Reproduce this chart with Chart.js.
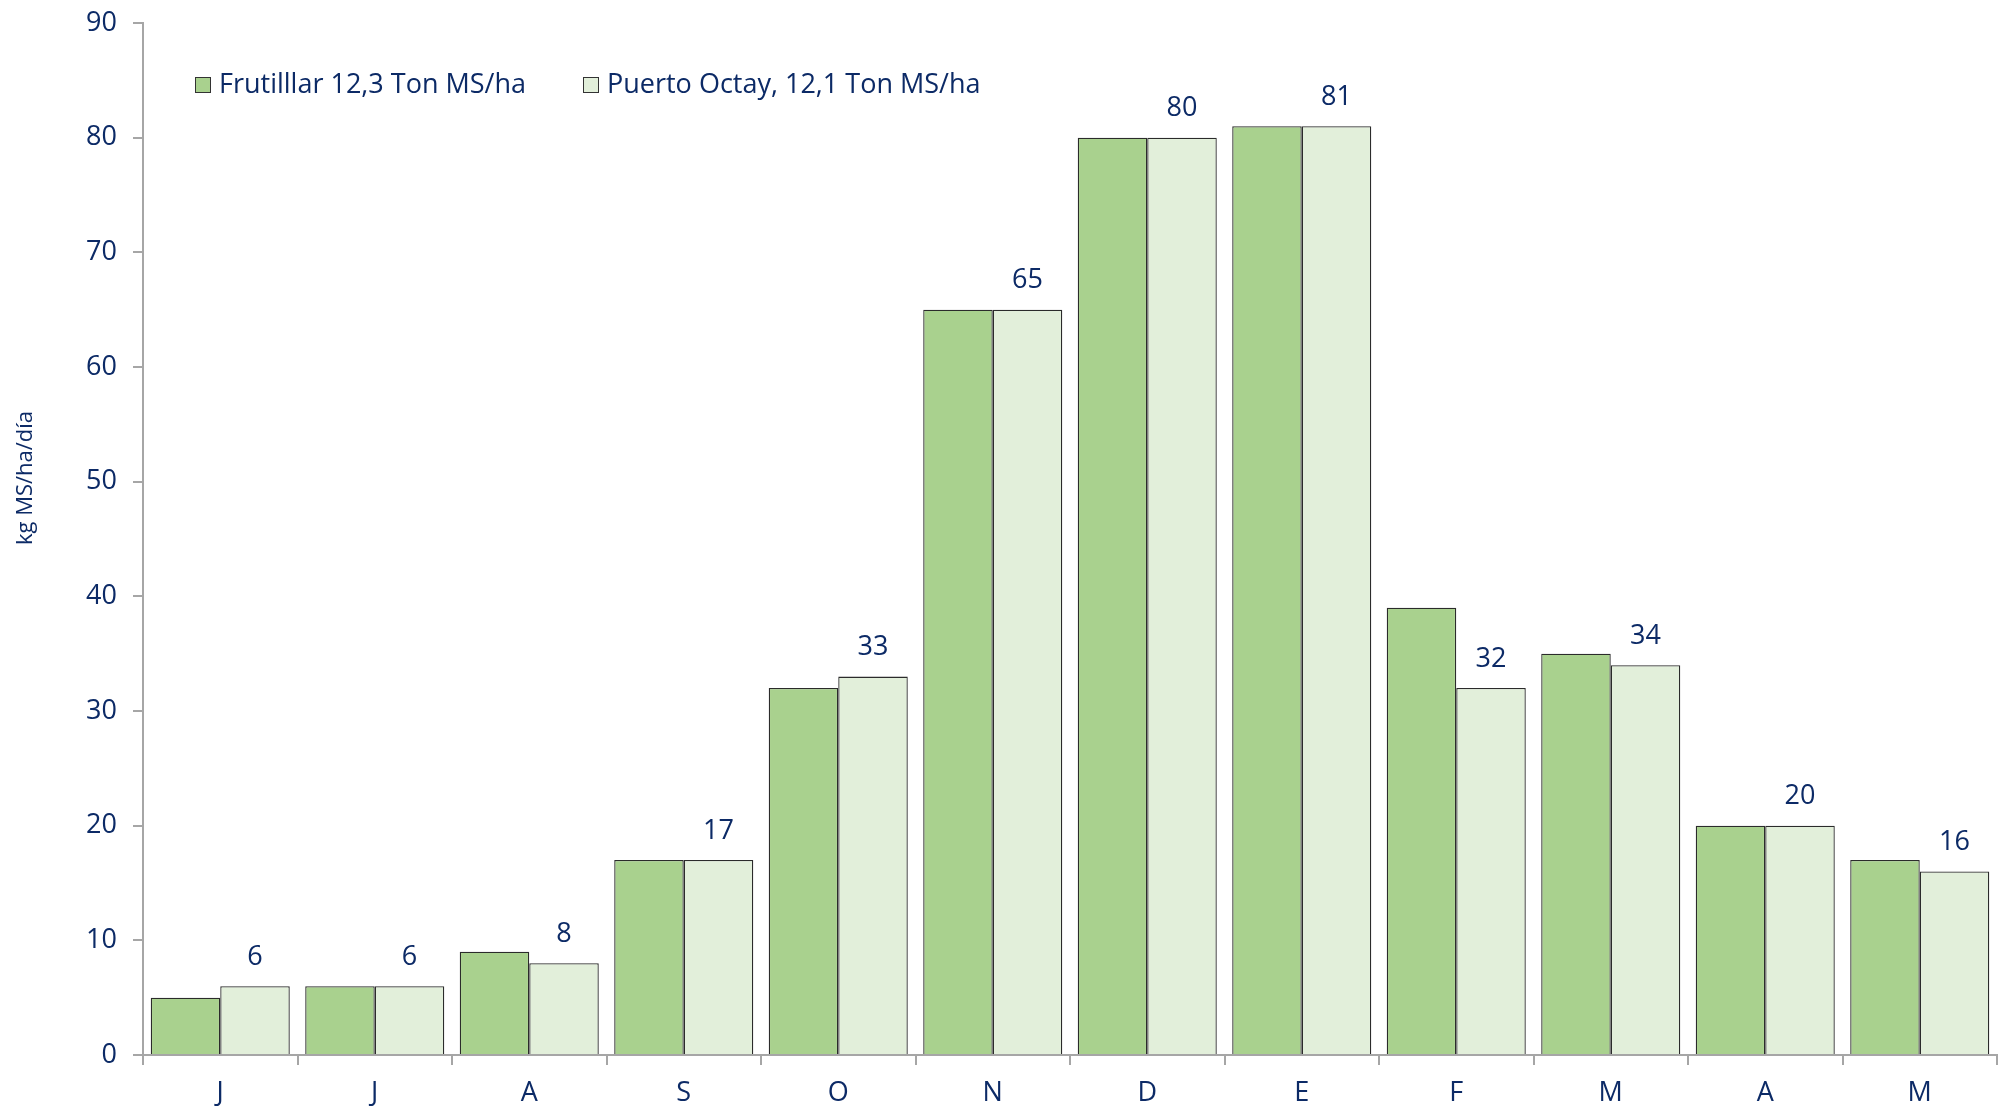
<!DOCTYPE html>
<html>
<head>
<meta charset="utf-8">
<script src="https://cdn.jsdelivr.net/npm/chart.js@4/dist/chart.umd.min.js"></script>
<style>
  html, body { margin: 0; padding: 0; background: #fff; }
  #wrap { width: 2001px; height: 1106px; position: relative; }
</style>
</head>
<body>
<div id="wrap"><canvas id="myChart"></canvas></div>
<script>
// month initials, June to May
const months = ["J", "J", "A", "S", "O", "N", "D", "E", "F", "M", "A", "M"];
const frutillar = [5, 6, 9, 17, 32, 65, 80, 81, 39, 35, 20, 17];
const puertoOctay = [6, 6, 8, 17, 33, 65, 80, 81, 32, 34, 20, 16];
const seriesNames = ["Frutilllar 12,3 Ton MS/ha", "Puerto Octay, 12,1 Ton MS/ha"];
const yTitle = "kg MS/ha/día";

const navy = "#0C2A66";
const font = "'Open Sans', sans-serif";

// value labels over the Puerto Octay bars
const valueLabels = {
  id: "valueLabels",
  afterDatasetsDraw(chart) {
    const { ctx } = chart;
    const meta = chart.getDatasetMeta(1);
    ctx.save();
    ctx.fillStyle = navy;
    ctx.font = "27px " + font;
    ctx.textAlign = "center";
    ctx.textBaseline = "middle";
    meta.data.forEach((bar, i) => {
      ctx.fillText(chart.data.datasets[1].data[i], bar.x, bar.y - 29);
    });
    ctx.restore();
  },
};

// legend sits inside the plot, top left; y title sits a bit above centre
const insideLegend = {
  id: "insideLegend",
  afterDraw(chart) {
    const { ctx } = chart;
    const spots = [195, 583];
    ctx.save();
    ctx.font = "27px " + font;
    ctx.textBaseline = "middle";
    chart.data.datasets.forEach((ds, i) => {
      const x = spots[i];
      const y = 85;
      ctx.fillStyle = ds.backgroundColor;
      ctx.fillRect(x, y - 8, 16, 16);
      ctx.strokeStyle = "#333";
      ctx.lineWidth = 1;
      ctx.strokeRect(x + 0.5, y - 7.5, 15, 15);
      ctx.fillStyle = navy;
      ctx.fillText(ds.label, x + 24, y);
    });

    ctx.translate(26, 478);
    ctx.rotate(-Math.PI / 2);
    ctx.font = "22px " + font;
    ctx.textAlign = "center";
    ctx.fillStyle = navy;
    ctx.fillText(yTitle, 0, 0);
    ctx.restore();
  },
};

new Chart(document.getElementById("myChart"), {
  type: "bar",
  data: {
    labels: months,
    datasets: [
      {
        label: seriesNames[0],
        data: frutillar,
        backgroundColor: "#A9D18E",
        borderColor: "#2B2B2B",
        borderWidth: 1.3,
        categoryPercentage: 0.9,
        barPercentage: 1,
      },
      {
        label: seriesNames[1],
        data: puertoOctay,
        backgroundColor: "#E2EFDA",
        borderColor: "#2B2B2B",
        borderWidth: 1.3,
        categoryPercentage: 0.9,
        barPercentage: 1,
      },
    ],
  },
  options: {
    responsive: true,
    maintainAspectRatio: false,
    animation: false,
    layout: { padding: { top: 23, right: 4, left: 0, bottom: 0 } },
    plugins: { legend: { display: false }, tooltip: { enabled: false } },
    scales: {
      y: {
        min: 0,
        max: 90,
        afterFit: (scale) => {
          scale.width = 143;
          scale.paddingTop = 0;
          scale.paddingBottom = 0;
        },
        border: { color: "#A6A6A6", width: 2 },
        grid: { display: true, drawOnChartArea: false, drawTicks: true, tickLength: 10, color: "#A6A6A6", lineWidth: 2 },
        ticks: { stepSize: 10, color: navy, padding: 16, font: { family: font, size: 27 } },
      },
      x: {
        afterFit: (scale) => {
          scale.height = 51;
          scale.paddingRight = 0;
          scale.paddingLeft = 0;
        },
        border: { color: "#A6A6A6", width: 2 },
        grid: { offset: true, drawOnChartArea: false, drawTicks: true, tickLength: 10, color: "#A6A6A6", lineWidth: 2 },
        ticks: { color: navy, padding: 12, font: { family: font, size: 27 } },
      },
    },
  },
  plugins: [valueLabels, insideLegend],
});
</script>
</body>
</html>
